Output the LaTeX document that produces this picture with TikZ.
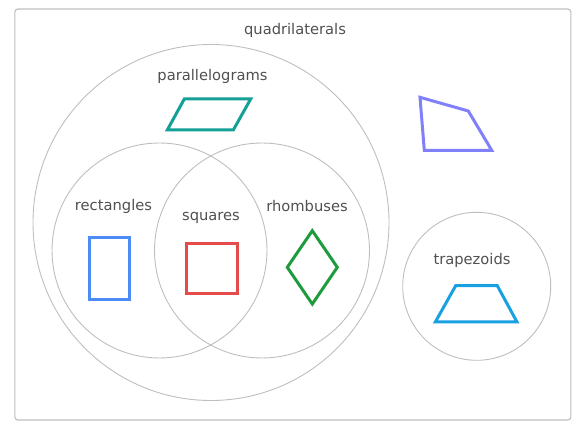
\documentclass[tikz,border=0pt]{standalone}
\usepackage{fontspec}
\setmainfont{DejaVu Sans}
\usetikzlibrary{shapes.geometric}
\definecolor{ring}{RGB}{190,190,190}
\definecolor{labelgray}{RGB}{80,80,80}
\definecolor{teal1}{RGB}{20,160,150}
\definecolor{purple1}{RGB}{128,128,250}
\definecolor{blue1}{RGB}{75,140,245}
\definecolor{red1}{RGB}{230,75,75}
\definecolor{green1}{RGB}{30,155,60}
\definecolor{cyan1}{RGB}{25,160,225}
\tikzset{
  setring/.style={draw=ring, line width=0.9pt, inner sep=0pt},
  setlabel/.style={text=labelgray, font=\fontsize{14.7}{17}\selectfont, inner sep=0pt},
  shapeline/.style={line width=3pt, line join=miter},
}
\begin{document}
\begin{tikzpicture}[x=1pt,y=-1pt]
\useasboundingbox (0,0) rectangle (586,435);
\node[draw=ring, line width=1.1pt, rounded corners=3pt, minimum width=556pt, minimum height=411pt, inner sep=0pt] (frame) at (292.9,214.5) {};
\node[setring, circle, minimum size=356pt] (para) at (211,222.5) {};
\node[setring, circle, minimum size=215pt] (rect) at (159.5,250.5) {};
\node[setring, circle, minimum size=215pt] (rhomb) at (262,250.5) {};
\node[setring, circle, minimum size=148pt] (trap) at (476.7,286.3) {};
\node[setlabel] (lquad) at (295,30) {quadrilaterals};
\node[setlabel] (lpara) at (212.5,76.5) {parallelograms};
\node[setlabel] (lrect) at (113.5,206) {rectangles};
\node[setlabel] (lsq) at (211,218) {squares};
\node[setlabel] (lrh) at (307,206) {rhombuses};
\node[setlabel] (ltr) at (472,260) {trapezoids};
\draw[shapeline, teal1] (167.3,130) -- (184.3,99) -- (250.7,99) -- (233.3,130) -- cycle;
\draw[shapeline, purple1] (420,97.3) -- (468.3,111) -- (491.7,150.3) -- (424.3,150.3) -- cycle;
\draw[shapeline, blue1] (89.3,237.7) rectangle (129.3,300);
\draw[shapeline, red1] (186.7,243.7) rectangle (237.3,294);
\draw[shapeline, green1] (312.3,230.7) -- (337.3,267.3) -- (312.3,304) -- (287.3,267.3) -- cycle;
\draw[shapeline, cyan1] (455.7,285.7) -- (497.3,285.7) -- (517,322) -- (435.3,322) -- cycle;
\end{tikzpicture}
\end{document}
